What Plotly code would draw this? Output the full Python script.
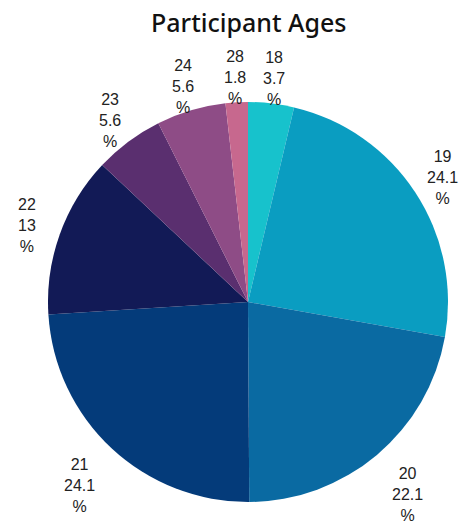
import math
import plotly.graph_objects as go

# Age groups and their share of participants (%)
ages = ["18", "19", "20", "21", "22", "23", "24", "28"]
shares = [3.7, 24.1, 22.1, 24.1, 13, 5.6, 5.6, 1.8]
colors = ["#17c2cc", "#0a9dc1", "#0a6aa2", "#043b7a", "#121a56",
          "#5a2f6f", "#8e4c86", "#c7688e"]

W, H = 463, 523
cx, cy, R = 248, 302, 200  # pie centre and radius in pixels

fig = go.Figure(go.Pie(
    labels=ages,
    values=shares,
    sort=False,
    direction="clockwise",
    rotation=0,
    marker=dict(colors=colors, line=dict(width=0)),
    textinfo="none",
    hoverinfo="label+percent",
    showlegend=False,
    domain=dict(x=[(cx - R) / W, (cx + R) / W],
                y=[1 - (cy + R) / H, 1 - (cy - R) / H]),
))

# Slice labels placed just outside the pie at each slice's mid-angle
total = sum(shares)
annotations = []
cum = 0.0
for age, val in zip(ages, shares):
    mid = (cum + val / 2) / total * 2 * math.pi
    cum += val
    s, c = math.sin(mid), math.cos(mid)
    d = R * (1.14 + 0.055 * (1 - c))
    px = cx + d * s
    py = cy - d * c + 3
    annotations.append(dict(
        x=px / W, y=1 - py / H, xref="paper", yref="paper",
        text=f"{age}<br>{val:g}<br>%", showarrow=False,
        xanchor="center", yanchor="middle", align="center",
        font=dict(family="Liberation Sans, Arial, sans-serif", size=16, color="#222222"),
    ))

annotations.append(dict(
    x=cx / W, y=1 - 22 / H, xref="paper", yref="paper",
    text="Participant Ages", showarrow=False,
    xanchor="center", yanchor="middle",
    font=dict(family="Noto Sans, sans-serif", size=25, color="#111111", weight=500),
))

fig.update_layout(
    width=W, height=H,
    margin=dict(l=0, r=0, t=0, b=0),
    paper_bgcolor="white",
    plot_bgcolor="white",
    annotations=annotations,
)

fig.write_html("out.html")
